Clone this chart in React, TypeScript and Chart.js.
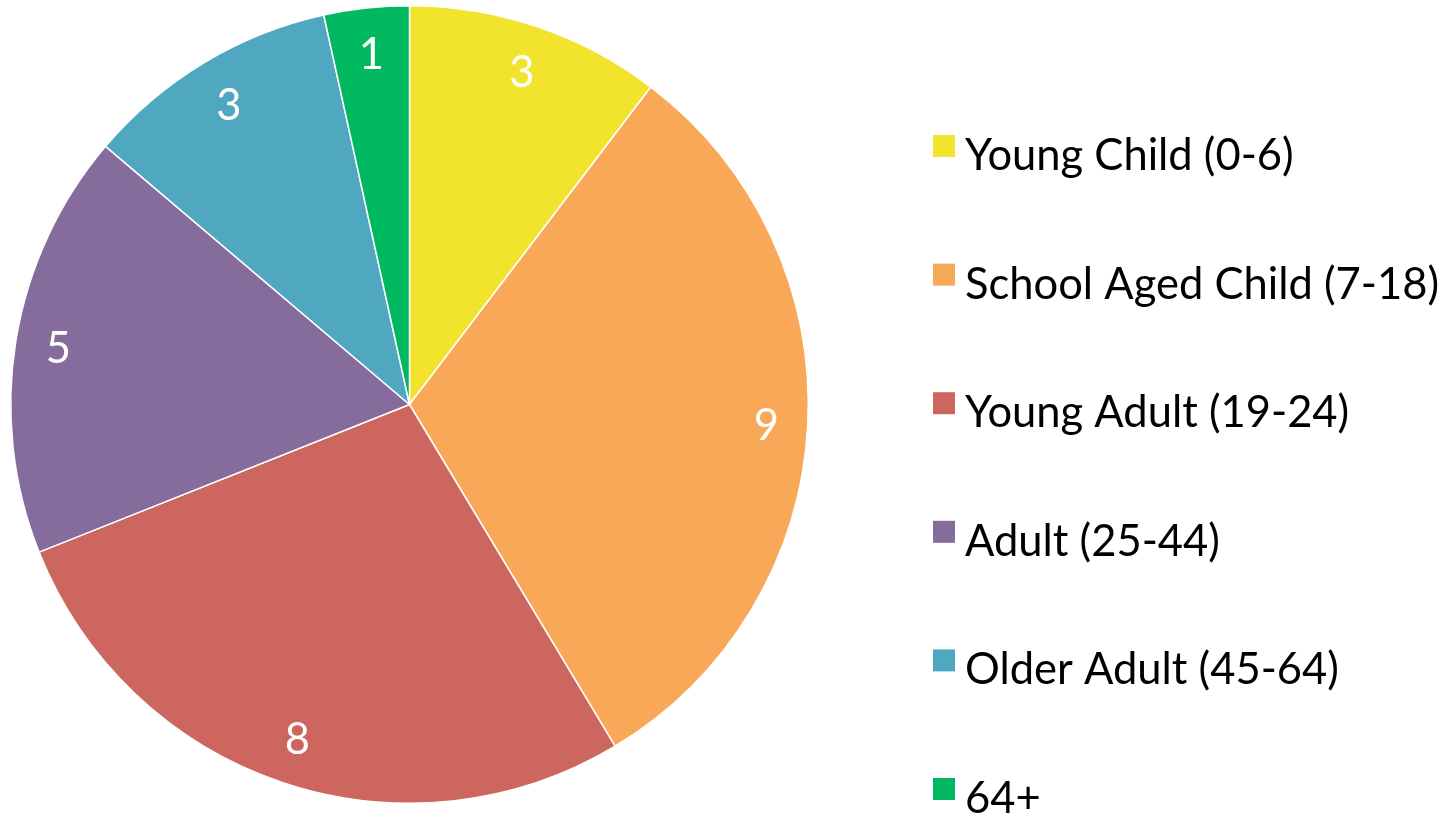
import React, { useEffect, useRef } from "react";
import { Chart, ArcElement, PieController } from "chart.js";

Chart.register(ArcElement, PieController);

const categories = [
  "Young Child (0-6)",
  "School Aged Child (7-18)",
  "Young Adult (19-24)",
  "Adult (25-44)",
  "Older Adult (45-64)",
  "64+",
];
const counts = [3, 9, 8, 5, 3, 1];
const colors = ["#F2E32C", "#F9A857", "#CD665F", "#866C9C", "#4FA8BF", "#00B85F"];

const FONT = "Lato, 'Open Sans', sans-serif";
const FONT_SIZE = 43.5;
const INSET = 28;

const sliceLabels = {
  id: "sliceLabels",
  afterDatasetsDraw(chart: any) {
    const ctx = chart.ctx;
    const meta = chart.getDatasetMeta(0);
    ctx.save();
    ctx.font = `${FONT_SIZE}px ${FONT}`;
    ctx.fillStyle = "#ffffff";
    ctx.textAlign = "center";
    ctx.textBaseline = "alphabetic";
    meta.data.forEach((arc: any, i: number) => {
      const p = arc.getProps(["x", "y", "startAngle", "endAngle", "outerRadius"], true);
      const mid = (p.startAngle + p.endAngle) / 2;
      const text = String(chart.data.datasets[0].data[i]);
      const m = ctx.measureText(text);
      const hw = m.width / 2;
      const hh = m.actualBoundingBoxAscent / 2;
      const c = Math.cos(mid);
      const s = Math.sin(mid);
      const proj = Math.abs(c) * hw + Math.abs(s) * hh;
      const r = p.outerRadius - INSET - proj;
      ctx.fillText(text, p.x + c * r, p.y + s * r + hh);
    });
    ctx.restore();
  },
};

const sideLegend = {
  id: "sideLegend",
  afterDraw(chart: any) {
    const ctx = chart.ctx;
    const labels = chart.data.labels as string[];
    const bg = chart.data.datasets[0].backgroundColor as string[];
    const boxX = 933;
    const boxTop = 135;
    const step = 128.6;
    const box = 22;
    ctx.save();
    ctx.font = `${FONT_SIZE}px ${FONT}`;
    ctx.textAlign = "left";
    ctx.textBaseline = "alphabetic";
    labels.forEach((lab, i) => {
      const y = boxTop + i * step;
      ctx.fillStyle = bg[i];
      ctx.fillRect(boxX, y, box, box);
      ctx.fillStyle = "#000000";
      ctx.fillText(lab, 965, y + 35);
    });
    ctx.restore();
  },
};

export default function App() {
  const ref = useRef<HTMLCanvasElement | null>(null);
  useEffect(() => {
    if (!ref.current) return;
    const chart = new Chart(ref.current, {
      type: "pie",
      data: {
        labels: categories,
        datasets: [
          {
            data: counts,
            backgroundColor: colors,
            borderColor: "#ffffff",
            borderWidth: 1.5,
            hoverOffset: 0,
          },
        ],
      },
      options: {
        animation: false,
        responsive: false,
        events: [],
        layout: { padding: { left: 10, top: 5, right: 640, bottom: 14 } },
        plugins: {
          legend: { display: false },
          tooltip: { enabled: false },
        },
      },
      plugins: [sliceLabels, sideLegend],
    });
    return () => chart.destroy();
  }, []);
  return (
    <div style={{ position: "fixed", left: 0, top: 0, width: 1449, height: 818, background: "#fff" }}>
      <canvas ref={ref} width={1449} height={818} style={{ width: 1449, height: 818 }} />
    </div>
  );
}
